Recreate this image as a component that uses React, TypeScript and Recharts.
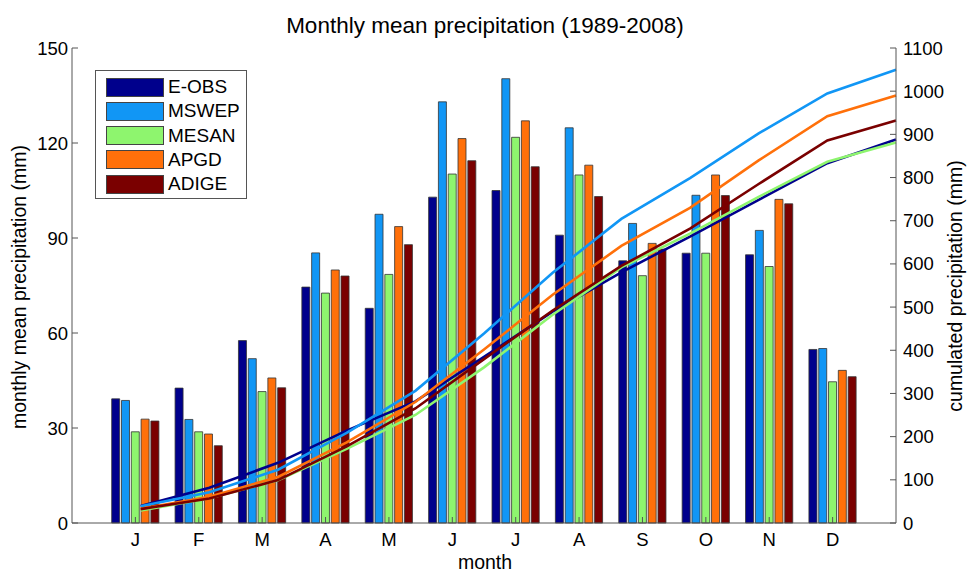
import React from "react";
import { Bar, ComposedChart, Line, XAxis, YAxis } from "recharts";

const months = ["J", "F", "M", "A", "M", "J", "J", "A", "S", "O", "N", "D"];
const monthNums = [1, 2, 3, 4, 5, 6, 7, 8, 9, 10, 11, 12];

// monthly means (mm)
const eobs = [39.2, 42.6, 57.6, 74.5, 67.8, 102.9, 105.0, 90.9, 82.8, 85.2, 84.7, 54.8];
const mswep = [38.7, 32.7, 51.9, 85.3, 97.5, 133.0, 140.3, 124.8, 94.6, 103.5, 92.4, 55.1];
const mesan = [28.8, 28.8, 41.5, 72.6, 78.5, 110.2, 121.8, 109.9, 78.1, 85.2, 81.0, 44.6];
const apgd = [32.8, 28.1, 45.8, 79.9, 93.6, 121.4, 127.0, 113.0, 88.3, 109.9, 102.2, 48.2];
const adige = [32.2, 24.4, 42.7, 78.0, 87.9, 114.4, 112.5, 103.1, 86.5, 103.4, 100.8, 46.2];

// cumulated precipitation (mm)
const eobsCum = [39.2, 81.8, 139.4, 213.9, 281.7, 384.6, 489.6, 580.5, 663.3, 748.5, 833.2, 888.0];
const mswepCum = [38.7, 71.4, 123.3, 208.6, 306.1, 439.1, 579.4, 704.2, 798.8, 902.3, 994.7, 1049.8];
const mesanCum = [28.8, 57.6, 99.1, 171.7, 250.2, 360.4, 482.2, 592.1, 670.2, 755.4, 836.4, 881.0];
const apgdCum = [32.8, 60.9, 106.7, 186.6, 280.2, 401.6, 528.6, 641.6, 729.9, 839.8, 942.0, 990.2];
const adigeCum = [32.2, 56.6, 99.3, 177.3, 265.2, 379.6, 492.1, 595.2, 681.7, 785.1, 885.9, 932.1];

const leftTicks = [0, 30, 60, 90, 120, 150];
const rightTicks = [0, 100, 200, 300, 400, 500, 600, 700, 800, 900, 1000, 1100];

const series = [
  { key: "eobs", cum: "eobsCum", name: "E-OBS", color: "#00008c" },
  { key: "mswep", cum: "mswepCum", name: "MSWEP", color: "#1196f5" },
  { key: "mesan", cum: "mesanCum", name: "MESAN", color: "#8ef56e" },
  { key: "apgd", cum: "apgdCum", name: "APGD", color: "#ff700a" },
  { key: "adige", cum: "adigeCum", name: "ADIGE", color: "#7a0000" },
];

const data = monthNums.map((m, i) => ({
  m,
  eobs: eobs[i],
  mswep: mswep[i],
  mesan: mesan[i],
  apgd: apgd[i],
  adige: adige[i],
  eobsCum: eobsCum[i],
  mswepCum: mswepCum[i],
  mesanCum: mesanCum[i],
  apgdCum: apgdCum[i],
  adigeCum: adigeCum[i],
}));

const FONT = "'Liberation Sans', Arial, sans-serif";
const tickStyle = { fontSize: 18.5, fill: "#000", fontFamily: FONT };

function LegendBox() {
  return (
    <div
      style={{
        position: "absolute",
        left: 95,
        top: 70,
        width: 150,
        height: 127,
        boxSizing: "content-box",
        border: "1px solid #555",
        background: "#fff",
        fontFamily: FONT,
        fontSize: 19,
      }}
    >
      {series.map((s, i) => (
        <div
          key={s.key}
          style={{ position: "absolute", left: 10, top: 6 + i * 24.3, display: "flex", alignItems: "center", height: 20 }}
        >
          <div style={{ width: 56, height: 17, background: s.color, border: "1px solid #444", marginRight: 4 }} />
          <span>{s.name}</span>
        </div>
      ))}
    </div>
  );
}

export default function App() {
  return (
    <div style={{ position: "absolute", left: 0, top: 0, width: 972, height: 572, background: "#fff" }}>
      <ComposedChart
        width={972}
        height={572}
        data={data}
        margin={{ top: 48, right: 10, left: 10, bottom: 19 }}
        barGap={1.8}
      >
        <XAxis
          xAxisId="bars"
          dataKey="m"
          type="number"
          domain={[0, 13]}
          ticks={monthNums}
          interval={0}
          tickFormatter={(v: number) => months[v - 1]}
          tick={tickStyle}
          tickSize={-6}
          tickMargin={16}
          height={30}
          stroke="#555"
        />
        <XAxis
          xAxisId="top"
          orientation="top"
          dataKey="m"
          type="number"
          domain={[0, 13]}
          ticks={monthNums}
          interval={0}
          tick={() => <g />}
          tickSize={-6}
          height={0}
          stroke="#555"
        />
        <XAxis xAxisId="lines" dataKey="m" type="number" domain={[0, 12]} hide />
        <YAxis
          yAxisId="left"
          domain={[0, 150]}
          ticks={leftTicks}
          interval={0}
          tick={tickStyle}
          tickSize={-6}
          tickMargin={10}
          width={62}
          stroke="#555"
        />
        <YAxis
          yAxisId="leftMirror"
          orientation="right"
          domain={[0, 150]}
          ticks={leftTicks}
          interval={0}
          tick={() => <g />}
          tickSize={-6}
          width={0}
          stroke="#555"
        />
        <YAxis
          yAxisId="right"
          orientation="right"
          domain={[0, 1100]}
          ticks={rightTicks}
          interval={0}
          tick={{ ...tickStyle, textAnchor: "start" }}
          tickSize={-6}
          tickMargin={13}
          width={66}
          stroke="#555"
        />
        {series.map((s) => (
          <Bar
            key={s.key}
            xAxisId="bars"
            yAxisId="left"
            dataKey={s.key}
            name={s.name}
            fill={s.color}
            stroke="#333"
            strokeWidth={0.8}
            barSize={8}
            isAnimationActive={false}
          />
        ))}
        {series.map((s) => (
          <Line
            key={s.cum}
            xAxisId="lines"
            yAxisId="right"
            dataKey={s.cum}
            type="linear"
            stroke={s.color}
            strokeWidth={2.6}
            dot={false}
            legendType="none"
            isAnimationActive={false}
          />
        ))}
      </ComposedChart>
      <LegendBox />
      <svg
        width={972}
        height={572}
        style={{ position: "absolute", left: 0, top: 0, pointerEvents: "none", fontFamily: FONT }}
      >
        <text x={485} y={33} textAnchor="middle" fontSize={22.5}>
          Monthly mean precipitation (1989-2008)
        </text>
        <text x={485} y={569} textAnchor="middle" fontSize={19.5}>
          month
        </text>
        <text x={26} y={287} textAnchor="middle" fontSize={19.5} transform="rotate(-90 26 287)">
          monthly mean precipitation (mm)
        </text>
        <text x={962} y={286} textAnchor="middle" fontSize={19.5} transform="rotate(-90 962 286)">
          cumulated precipitation (mm)
        </text>
      </svg>
    </div>
  );
}
